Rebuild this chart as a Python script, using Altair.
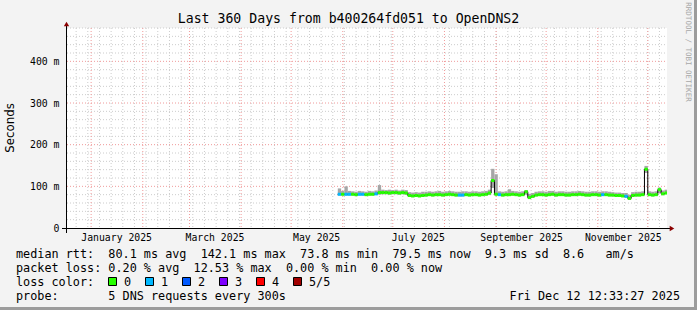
import altair as alt
import pandas as pd

# ---------------- data ----------------
RANGE_START = alt.DateTime(year=2024, month=12, date=17, hours=12, minutes=33, seconds=27)
RANGE_END = alt.DateTime(year=2025, month=12, date=12, hours=12, minutes=33, seconds=27)
BUCKET_START = "2025-05-29"
BUCKET_DAYS = 2

# median rtt per 2-day bucket (ms)
median = [81, 81, 81, 81, 81, 80, 81, 81, 80, 81, 81, 82,
          85,
          85, 85, 84, 85, 85, 84, 85, 84,
          78, 77, 78, 77, 78, 79,
          80, 79, 80, 80, 79, 80, 81, 80, 79, 79, 79, 80, 79, 80, 80, 79, 80, 81, 84,
          114, 81,
          80, 79, 80, 80, 81, 80, 79, 80,
          87, 73, 76,
          79, 80, 80, 79, 80, 81, 79, 80, 80, 79, 79, 80, 80, 81, 80, 79, 79, 80, 80, 79,
          80, 80, 79, 79, 78, 78, 77, 76, 71, 78, 79, 79, 80,
          141, 80,
          79, 80, 92, 82, 84]

# smoke upper edge (ms)
smoke_hi = [95, 89, 100, 89, 88, 87, 89, 88, 87, 89, 88, 90,
            103,
            92, 91, 92, 91, 92, 90, 92, 91,
            86, 85, 86, 85, 87, 87,
            88, 87, 88, 89, 87, 88, 89, 88, 87, 87, 88, 88, 87, 88, 88, 87, 88, 89, 92,
            142, 129,
            88, 87, 88, 93, 89, 88, 87, 88,
            91, 82, 84,
            87, 88, 88, 87, 89, 89, 87, 88, 88, 87, 87, 88, 88, 89, 88, 87, 87, 88, 88, 87,
            88, 88, 87, 86, 85, 85, 84, 84, 80, 86, 87, 87, 88,
            149, 88,
            87, 88, 97, 90, 92]

# smoke lower edge (ms)
smoke_lo = [78, 78, 78, 78, 78, 77, 78, 78, 77, 78, 78, 79,
            80,
            81, 81, 80, 81, 81, 80, 81, 80,
            75, 74, 75, 74, 75, 76,
            77, 76, 77, 77, 76, 77, 78, 77, 76, 76, 76, 77, 76, 77, 77, 76, 77, 78, 79,
            96, 78,
            77, 76, 77, 77, 78, 77, 76, 77,
            80, 70, 73,
            76, 77, 77, 76, 77, 78, 76, 77, 77, 76, 76, 77, 77, 78, 77, 76, 76, 77, 77, 76,
            77, 77, 76, 76, 75, 75, 74, 73, 68, 75, 76, 76, 77,
            132, 77,
            76, 77, 84, 79, 81]

# packets lost out of 5 per bucket
loss = [1, 0, 1, 1, 0, 0, 1, 1, 0, 0, 0, 1,
        0,
        0, 0, 0, 0, 0, 0, 0, 0,
        0, 0, 0, 0, 0, 0,
        0, 0, 0, 0, 0, 0, 0, 0, 0, 1, 1, 0, 0, 0, 0, 0, 0, 0, 0,
        0, 0,
        1, 0, 0, 0, 0, 0, 0, 0,
        0, 0, 0,
        0, 0, 0, 0, 0, 0, 0, 0, 0, 0, 0, 0, 0, 0, 0, 0, 0, 0, 0, 0,
        1, 0, 0, 0, 0, 0, 0, 1, 0, 0, 0, 0, 0,
        0, 0,
        0, 0, 0, 0, 0]

loss_labels = ["0", "1", "2", "3", "4", "5/5"]
loss_colors = ["#26ff00", "#00b8ff", "#0059ff", "#7e00ff", "#ff0000", "#a10000"]

y_major = [0, 100, 200, 300, 400]
x_label_months = [1, 3, 5, 7, 9, 11]

TITLE = "Last 360 Days from b400264fd051 to OpenDNS2"
Y_TITLE = "Seconds"
ROW1 = "median rtt:  80.1 ms avg  142.1 ms max  73.8 ms min  79.5 ms now  9.3 ms sd  8.6   am/s"
ROW2 = "packet loss: 0.20 % avg  12.53 % max  0.00 % min  0.00 % now"
ROW3 = "loss color:"
ROW4 = "probe:       5 DNS requests every 300s"
DATE = "Fri Dec 12 12:33:27 2025"
SIDE = "RRDTOOL / TOBI OETIKER"

# ---------------- tables ----------------
FMT = "%Y-%m-%dT%H:%M:%S"
t0 = pd.Timestamp(BUCKET_START)
starts = [t0 + pd.Timedelta(days=BUCKET_DAYS * i) for i in range(len(median))]
df = pd.DataFrame({
    "t": [s.strftime(FMT) for s in starts],
    "t2": [(s + pd.Timedelta(days=BUCKET_DAYS)).strftime(FMT) for s in starts],
    "med": median, "hi": smoke_hi, "lo": smoke_lo, "loss": loss,
})

month_lines = pd.DataFrame({"t": [pd.Timestamp(2025, m, 1).strftime(FMT) for m in range(1, 13)]})
week_lines = pd.DataFrame({"t": [d.strftime(FMT) for d in
                                 pd.date_range("2024-12-23", "2025-12-12", freq="7D")]})
h_minor = pd.DataFrame({"v": [v for v in range(20, 481, 20) if v % 100 != 0]})
h_major = pd.DataFrame({"v": [100, 200, 300, 400]})
one = pd.DataFrame({"k": [0]})

MONO = "DejaVu Sans Mono"
SANS = "DejaVu Sans"
NB = "\u00a0"

xs = alt.Scale(domain=[RANGE_START, RANGE_END])
ys = alt.Scale(domain=[0, 480], nice=False, zero=False)
xaxis = alt.Axis(values=[alt.DateTime(year=2025, month=m, date=16) for m in x_label_months],
                 format="%B %Y", domain=False, ticks=False, tickSize=0, grid=False,
                 labelFont=MONO, labelFontSize=9.8, labelColor="#000000", labelPadding=4,
                 labelOverlap=False, labelFlush=False, title=None)
yaxis = alt.Axis(values=y_major,
                 labelExpr="datum.value == 0 ? '0" + NB + NB + "' : datum.value + '" + NB + "m'",
                 domain=False, ticks=False, tickSize=0, grid=False,
                 labelFont=MONO, labelFontSize=9.8, labelColor="#000000", labelPadding=8,
                 labelBaseline="middle", title=None)


def X(f):
    return alt.X(f"{f}:T", scale=xs, axis=xaxis)


def Y(f):
    return alt.Y(f"{f}:Q", scale=ys, axis=yaxis)


def txt(s, x, y, size=11.8, align="left", font=MONO, color="#000000", angle=0):
    return alt.Chart(one).mark_text(
        text=s.replace(" ", NB), align=align, baseline="middle", font=font,
        fontSize=size, color=color, angle=angle
    ).encode(x=alt.value(x), y=alt.value(y))


GRID = "#cccccc"
MGRID = "#f09a9a"

layers = []
layers.append(alt.Chart(h_minor).mark_rule(color=GRID, strokeDash=[1, 2], strokeWidth=1)
              .encode(y=Y("v"), x=alt.value(0), x2=alt.value(600)))
layers.append(alt.Chart(week_lines).mark_rule(color=GRID, strokeDash=[1, 2], strokeWidth=1)
              .encode(x=X("t"), y=alt.value(0), y2=alt.value(200)))
layers.append(alt.Chart(h_major).mark_rule(color=MGRID, strokeDash=[1, 2], strokeWidth=1)
              .encode(y=Y("v"), x=alt.value(0), x2=alt.value(600)))
layers.append(alt.Chart(month_lines).mark_rule(color=MGRID, strokeDash=[1, 2], strokeWidth=1)
              .encode(x=X("t"), y=alt.value(0), y2=alt.value(200)))

base = alt.Chart(df)
layers.append(base.mark_rect(color="#a6a6a6", clip=True)
              .encode(x=X("t"), x2="t2:T", y=Y("lo"), y2="hi:Q"))
layers.append(base.mark_line(interpolate="step-after", color="#000000", strokeWidth=1, clip=True)
              .encode(x=X("t"), y=Y("med")))
layers.append(base.mark_rule(strokeWidth=3, strokeCap="butt", clip=True)
              .encode(x=X("t"), x2="t2:T", y=Y("med"),
                      color=alt.Color("loss:N", scale=alt.Scale(domain=[0, 1],
                                                                range=loss_colors[:2]),
                                      legend=None)))

# axes lines and arrows
layers.append(alt.Chart(one).mark_rule(color="#000000", strokeWidth=1)
              .encode(x=alt.value(-5), x2=alt.value(603), y=alt.value(200.5)))
layers.append(alt.Chart(one).mark_rule(color="#000000", strokeWidth=1)
              .encode(x=alt.value(-0.5), y=alt.value(205), y2=alt.value(-3)))
layers.append(alt.Chart(one).mark_point(shape="triangle-right", filled=True, color="#8b0000",
                                        size=28, opacity=1)
              .encode(x=alt.value(605), y=alt.value(200.5)))
layers.append(alt.Chart(one).mark_point(shape="triangle-up", filled=True, color="#8b0000",
                                        size=28, opacity=1)
              .encode(x=alt.value(-0.5), y=alt.value(-4)))

# frame shading
layers.append(alt.Chart(one).mark_rule(color="#9c9c9c", strokeWidth=3)
              .encode(x=alt.value(628.5), y=alt.value(-28), y2=alt.value(282)))
layers.append(alt.Chart(one).mark_rule(color="#9c9c9c", strokeWidth=3)
              .encode(y=alt.value(280.5), x=alt.value(-67), x2=alt.value(630)))

# texts
layers.append(txt(TITLE, 281.5, -9, size=13.2, align="center"))
layers.append(txt(Y_TITLE, -57, 100, size=11.8, align="center", font=SANS, angle=270))
layers.append(txt(ROW1, -51, 226.3))
layers.append(txt(ROW2, -51, 240.3))
layers.append(txt(ROW3, -51, 254.3))
layers.append(txt(ROW4, -51, 268))
layers.append(txt(DATE, 613, 268, align="right"))
layers.append(txt(SIDE, 621, 24, size=7.5, align="center", color="#a8a8a8", angle=90))

# loss colour boxes
for i, (lab, col) in enumerate(zip(loss_labels, loss_colors)):
    bx = 108.5 + 37 * i - 67
    layers.append(alt.Chart(one).mark_rect(color=col, stroke="#000000", strokeWidth=1)
                  .encode(x=alt.value(bx), x2=alt.value(bx + 8), y=alt.value(249.5),
                          y2=alt.value(257.5)))
    layers.append(txt(lab, bx + 15.5, 254.3))

chart = alt.layer(*layers).properties(
    width=600, height=200,
    padding={"left": 67, "top": 28, "right": 30, "bottom": 82},
    autosize=alt.AutoSizeParams(type="none"),
    background="#f3f3f3",
).configure_view(stroke=None, fill="#ffffff")

chart.save("out.html", embed_options={"renderer": "svg", "actions": False})
